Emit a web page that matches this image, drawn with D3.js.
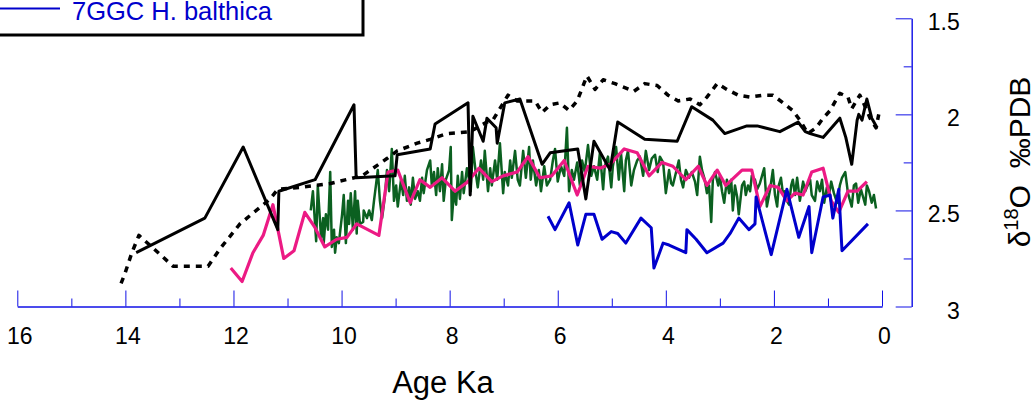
<!DOCTYPE html>
<html>
<head>
<meta charset="utf-8">
<script src="https://cdn.jsdelivr.net/npm/d3@7"></script>
<style>
    html, body { margin: 0; padding: 0; background: #fff; }
    svg { display: block; font-family: "Liberation Sans", Arial, sans-serif; }
</style>
</head>
<body>
<div id="chart"></div>
<script>
// 1. DATA  [age Ka, d18O permil PDB]
const blackSolid = [
    [13.80,2.72],[12.53,2.54],[11.82,2.17],[11.18,2.60],[11.16,2.40],[10.49,2.34],[9.77,1.95],[9.73,2.33],
    [9.01,2.32],[8.97,2.21],[8.36,2.18],[8.27,2.05],[7.66,1.94],[7.62,2.42],[7.57,2.01],[7.38,2.14],
    [7.31,2.02],[7.14,2.07],[7.12,2.15],[6.98,1.94],[6.70,1.92],[6.29,2.26],[6.14,2.20],[5.63,2.18],
    [5.48,2.44],[5.33,2.14],[5.03,2.29],[4.89,2.04],[4.39,2.13],[3.79,2.14],[3.52,1.96],[3.13,2.03],
    [2.91,2.10],[2.50,2.06],[2.31,2.06],[1.89,2.09],[1.55,2.04],[1.42,2.09],[1.33,2.10],[1.09,2.12],
    [0.78,2.02],[0.67,2.12],[0.56,2.26],[0.46,2.03],[0.43,2.00],[0.37,2.03],[0.28,1.92],[0.19,2.02],[0.09,2.07]
];

const blackDotted = [
    [14.08,2.88],[14.01,2.83],[13.88,2.72],[13.75,2.63],[13.51,2.69],[13.12,2.79],[12.47,2.79],[12.25,2.70],
    [11.88,2.57],[11.32,2.44],[11.18,2.39],[10.77,2.38],[10.21,2.36],[9.62,2.32],[9.16,2.23],[8.97,2.19],
    [8.60,2.15],[8.36,2.13],[8.05,2.10],[7.62,2.09],[7.31,2.04],[7.20,2.03],[6.92,1.90],[6.75,1.93],
    [6.42,1.93],[6.29,1.99],[6.14,1.95],[5.96,1.94],[5.79,1.98],[5.64,1.93],[5.46,1.80],[5.31,1.87],
    [5.16,1.82],[4.94,1.84],[4.59,1.88],[4.39,1.84],[4.16,1.85],[3.96,1.90],[3.77,1.93],[3.55,1.92],
    [3.37,1.95],[3.24,1.91],[3.05,1.84],[2.87,1.87],[2.66,1.90],[2.44,1.91],[2.20,1.90],[2.02,1.90],
    [1.83,1.94],[1.65,1.98],[1.52,2.03],[1.37,2.10],[1.22,2.07],[1.09,2.02],[0.96,1.98],[0.78,1.89],
    [0.63,1.91],[0.56,1.97],[0.41,1.90],[0.31,1.96],[0.22,2.02],[0.11,2.07],[0.06,2.00]
];

const greenSeries = [
    [10.57,2.50],[10.53,2.40],[10.47,2.66],[10.44,2.37],[10.38,2.64],[10.34,2.54],[10.33,2.67],[10.29,2.52],
    [10.25,2.60],[10.21,2.30],[10.18,2.69],[10.14,2.60],[10.12,2.72],[10.09,2.64],[10.05,2.67],[9.99,2.52],
    [9.96,2.42],[9.92,2.67],[9.88,2.45],[9.86,2.57],[9.83,2.41],[9.79,2.60],[9.75,2.40],[9.72,2.62],
    [9.70,2.45],[9.66,2.57],[9.60,2.56],[9.59,2.50],[9.53,2.54],[9.49,2.50],[9.44,2.55],[9.40,2.45],
    [9.36,2.36],[9.33,2.29],[9.29,2.45],[9.25,2.54],[9.20,2.43],[9.16,2.29],
    [9.12,2.40],[9.07,2.18],[9.03,2.45],[8.99,2.37],[8.96,2.48],[8.90,2.34],[8.86,2.42],[8.83,2.32],
    [8.79,2.45],[8.75,2.38],[8.72,2.47],[8.68,2.33],[8.64,2.44],[8.59,2.40],[8.55,2.45],[8.51,2.33],
    [8.48,2.41],[8.42,2.29],[8.36,2.24],[8.33,2.37],[8.29,2.30],[8.25,2.42],[8.22,2.28],[8.18,2.40],
    [8.14,2.26],[8.11,2.45],[8.07,2.34],[8.01,2.29],[7.98,2.17],[7.96,2.55],[7.92,2.40],[7.88,2.47],
    [7.85,2.32],[7.81,2.44],[7.77,2.30],[7.74,2.41],[7.68,2.28],[7.64,2.34],[7.61,2.40],[7.57,2.17],
    [7.51,2.32],[7.48,2.38],[7.42,2.24],[7.38,2.34],[7.35,2.19],[7.29,2.40],[7.25,2.28],[7.22,2.37],
    [7.16,2.24],[7.12,2.34],[7.07,2.15],[7.01,2.41],[6.98,2.30],[6.92,2.37],[6.88,2.24],[6.85,2.33],
    [6.79,2.19],[6.74,2.34],
    [6.70,2.37],[6.64,2.19],[6.59,2.33],[6.53,2.17],[6.50,2.34],[6.46,2.24],[6.40,2.37],[6.35,2.29],
    [6.31,2.40],[6.25,2.27],[6.20,2.37],[6.14,2.34],[6.09,2.24],[6.05,2.18],[6.00,2.35],[5.94,2.27],
    [5.88,2.32],[5.83,2.07],[5.79,2.40],[5.74,2.29],[5.70,2.34],[5.64,2.25],[5.59,2.37],[5.55,2.24],
    [5.50,2.30],[5.44,2.16],[5.38,2.32],[5.33,2.27],[5.27,2.34],[5.22,2.20],[5.16,2.39],[5.13,2.27],
    [5.07,2.22],[5.01,2.38],[4.98,2.27],[4.92,2.17],[4.87,2.34],[4.83,2.20],[4.77,2.40],[4.74,2.24],
    [4.70,2.19],[4.64,2.37],[4.59,2.29],[4.53,2.24],[4.48,2.22],
    [4.42,2.32],[4.37,2.19],[4.31,2.29],[4.26,2.23],[4.20,2.21],[4.15,2.30],[4.11,2.22],[4.05,2.25],
    [4.00,2.41],[3.94,2.29],[3.90,2.36],[3.87,2.37],[3.81,2.30],[3.76,2.24],[3.72,2.34],[3.68,2.38],
    [3.63,2.29],[3.57,2.33],[3.52,2.30],[3.46,2.35],[3.42,2.42],[3.37,2.22],[3.33,2.29],[3.28,2.34],
    [3.24,2.41],[3.20,2.37],[3.16,2.56],[3.13,2.34],[3.09,2.30],[3.03,2.37],[3.00,2.32],[2.96,2.40],
    [2.92,2.46],[2.87,2.34],[2.83,2.41],[2.79,2.34],[2.76,2.50],[2.72,2.37],[2.68,2.43],[2.65,2.52],
    [2.59,2.37],[2.55,2.35],[2.52,2.42],[2.48,2.37],[2.44,2.40],[2.41,2.32],[2.35,2.34],[2.31,2.39],
    [2.26,2.36],
    [2.22,2.32],[2.18,2.28],[2.13,2.48],[2.07,2.39],[2.02,2.29],[1.98,2.42],[1.94,2.48],[1.91,2.37],
    [1.87,2.33],[1.83,2.42],[1.80,2.40],[1.76,2.45],[1.72,2.47],[1.68,2.37],[1.65,2.34],[1.61,2.42],
    [1.57,2.33],[1.52,2.45],[1.46,2.35],[1.42,2.40],[1.39,2.38],[1.33,2.34],[1.30,2.42],[1.24,2.45],
    [1.20,2.35],[1.15,2.40],[1.11,2.34],[1.07,2.46],[1.02,2.38],[0.98,2.42],[0.94,2.35],[0.89,2.41],
    [0.83,2.46],[0.78,2.37],[0.74,2.33],[0.68,2.30],[0.63,2.41],[0.59,2.45],[0.56,2.48],[0.52,2.37],
    [0.48,2.36],[0.44,2.46],[0.39,2.39],[0.35,2.43],[0.31,2.47],[0.28,2.37],[0.24,2.40],[0.19,2.46],
    [0.15,2.42],[0.11,2.49]
];

const pinkSeries = [
    [12.05,2.80],[11.84,2.87],[11.64,2.72],[11.45,2.63],[11.27,2.47],[11.07,2.75],[10.88,2.71],[10.68,2.51],
    [10.49,2.59],[10.31,2.69],[10.09,2.65],[9.90,2.64],[9.72,2.57],[9.31,2.63],[9.14,2.30],[8.96,2.29],
    [8.73,2.46],[8.55,2.34],[8.36,2.38],[8.14,2.33],[7.90,2.40],[7.66,2.35],[7.46,2.28],[7.22,2.35],
    [7.01,2.32],[6.75,2.30],[6.55,2.22],[6.33,2.33],[6.11,2.32],[5.88,2.24],[5.64,2.42],[5.44,2.27],
    [5.22,2.28],[5.03,2.26],[4.77,2.18],[4.53,2.20],[4.31,2.32],[4.07,2.25],[3.87,2.27],[3.63,2.34],
    [3.40,2.27],[3.24,2.37],[3.05,2.29],[2.89,2.37],[2.59,2.29],[2.41,2.29],[2.26,2.48],[2.07,2.37],
    [1.92,2.38],[1.76,2.45],[1.61,2.41],[1.46,2.42],[1.30,2.30],[1.09,2.28],[0.94,2.45],[0.80,2.51],
    [0.63,2.40],[0.46,2.40],[0.28,2.35]
];

const blueSeries = [
    [6.18,2.53],[6.05,2.60],[5.79,2.46],[5.63,2.68],[5.48,2.52],[5.33,2.52],[5.18,2.65],[5.01,2.61],
    [4.89,2.62],[4.74,2.67],[4.46,2.54],[4.27,2.59],[4.22,2.80],[4.05,2.67],[3.94,2.68],[3.63,2.72],
    [3.61,2.60],[3.44,2.65],[3.24,2.72],[2.94,2.67],[2.81,2.62],[2.65,2.54],[2.46,2.60],[2.35,2.57],
    [2.33,2.43],[2.05,2.73],[1.76,2.39],[1.54,2.64],[1.35,2.48],[1.30,2.72],[1.09,2.43],[0.96,2.42],
    [0.91,2.54],[0.80,2.39],[0.74,2.71],[0.26,2.57]
];

const ageMajorTicks = [16, 14, 12, 10, 8, 6, 4, 2, 0];
const ageMinorTicks = [15, 13, 11, 9, 7, 5, 3, 1];
const isoMajorTicks = [1.5, 2, 2.5, 3];
const isoMinorTicks = [1.75, 2.25, 2.75];
const legendLabels = ["7GGC H. balthica"];

// 2. CHART CONFIGURATION
const CHART_CONFIG = {
    width: 1035,
    height: 403,
    xRange: [17.3, 882],
    yRange: [18.3, 306.5],
    yAxisX: 911.7,
    axisColor: "#1010e6",
    colors: { black: "#000", green: "#0b6020", pink: "#ec1a84", blue: "#0000cc" }
};

function renderChart() {
    const svg = d3.select("#chart").append("svg")
        .attr("width", CHART_CONFIG.width)
        .attr("height", CHART_CONFIG.height);

    const x = d3.scaleLinear().domain([16, 0]).range(CHART_CONFIG.xRange);
    const y = d3.scaleLinear().domain([1.5, 3]).range(CHART_CONFIG.yRange);
    const c = CHART_CONFIG.colors;

    // --- x axis (ticks point up, labels below) ---
    const xMajor = svg.append("g")
        .attr("transform", `translate(0,${y(3)})`)
        .call(d3.axisBottom(x).tickValues(ageMajorTicks).tickSizeInner(-16).tickSizeOuter(0)
            .tickPadding(21).tickFormat(d3.format("d")));
    const xMinor = svg.append("g")
        .attr("transform", `translate(0,${y(3)})`)
        .call(d3.axisBottom(x).tickValues(ageMinorTicks).tickSizeInner(-8).tickSizeOuter(0).tickFormat(""));
    xMajor.selectAll("text").attr("dx", 2);

    // --- y axis on the right (ticks point left, labels right) ---
    const yMajor = svg.append("g")
        .attr("transform", `translate(${CHART_CONFIG.yAxisX},0)`)
        .call(d3.axisRight(y).tickValues(isoMajorTicks).tickSizeInner(-16).tickSizeOuter(0)
            .tickFormat(d => String(d)));
    const yMinor = svg.append("g")
        .attr("transform", `translate(${CHART_CONFIG.yAxisX},0)`)
        .call(d3.axisRight(y).tickValues(isoMinorTicks).tickSizeInner(-8).tickSizeOuter(0).tickFormat(""));
    yMajor.selectAll("text").attr("x", 48).attr("dy", "0.5em").attr("text-anchor", "end");

    [xMajor, xMinor, yMajor, yMinor].forEach(g => {
        g.selectAll("path, line").attr("stroke", CHART_CONFIG.axisColor);
        g.selectAll("text").attr("fill", "#000").attr("font-size", 23)
            .attr("font-family", "'Liberation Sans', Arial, sans-serif");
    });

    // --- series ---
    const line = d3.line().x(d => x(d[0])).y(d => y(d[1]));
    const draw = (data, color, width, dash) => svg.append("path")
        .datum(data)
        .attr("d", line)
        .attr("fill", "none")
        .attr("stroke", color)
        .attr("stroke-width", width)
        .attr("stroke-linejoin", "round")
        .attr("stroke-dasharray", dash || null);

    draw(greenSeries, c.green, 2.5);
    draw(pinkSeries, c.pink, 3.2);
    draw(blackDotted, c.black, 3.5, "6,6");
    draw(blackSolid, c.black, 3);
    draw(blueSeries, c.blue, 3);

    // --- axis titles ---
    svg.append("text")
        .attr("x", 443).attr("y", 393)
        .attr("text-anchor", "middle")
        .attr("font-size", 31)
        .text("Age Ka");

    const yTitle = svg.append("text")
        .attr("transform", "translate(1030,162) rotate(-90)")
        .attr("text-anchor", "middle")
        .attr("font-size", 30);
    yTitle.append("tspan").text("δ");
    yTitle.append("tspan").attr("dy", -12).attr("font-size", 20).text("18");
    yTitle.append("tspan").attr("dy", 12).text("O\u00a0\u00a0‰PDB");

    // --- legend (only its last entry is inside the picture) ---
    const legend = svg.append("g");
    legend.append("rect")
        .attr("x", -10).attr("y", -80)
        .attr("width", 373).attr("height", 115)
        .attr("fill", "#fff")
        .attr("stroke", "#000")
        .attr("stroke-width", 3);
    legend.append("line")
        .attr("x1", 0).attr("x2", 60).attr("y1", 8.5).attr("y2", 8.5)
        .attr("stroke", c.blue).attr("stroke-width", 2);
    legend.append("text")
        .attr("x", 72).attr("y", 20)
        .attr("fill", c.blue)
        .attr("font-size", 25.5)
        .text(legendLabels[0]);
}

document.addEventListener("DOMContentLoaded", renderChart);
</script>
</body>
</html>
